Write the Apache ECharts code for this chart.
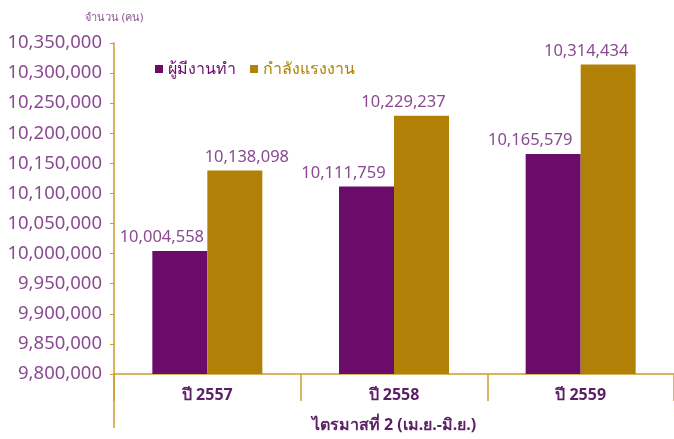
<!DOCTYPE html>
<html><head><meta charset="utf-8">
<script src="https://cdn.jsdelivr.net/npm/echarts@6/dist/echarts.min.js"></script>
<style>html,body{margin:0;padding:0;background:#fff}#c{width:674px;height:439px}</style>
</head><body><div id="c"></div>
<script>
const categories = ['ปี 2557', 'ปี 2558', 'ปี 2559'];
const employed = [10004558, 10111759, 10165579];
const labourForce = [10138098, 10229237, 10314434];
const seriesNames = ['ผู้มีงานทำ', 'กำลังแรงงาน'];
const yMin = 9800000, yMax = 10350000, yStep = 50000;

const purple = '#6c0c6a', gold = '#b08106', axisGold = '#c99e2c', labelPurple = '#8a4a92';
const font = '"Noto Sans", "DejaVu Sans", sans-serif';
const chart = echarts.init(document.getElementById('c'));
const fmt = v => v.toLocaleString('en-US');
const lblOffsetsA = [[-18, 0], [-23, 0], [-23, 0]];
const lblOffsetsB = [[12, 0], [-18, 0], [-22, 0]];
chart.setOption({
  animation: false,
  textStyle: { fontFamily: font },
  grid: { left: 114, top: 43, width: 566, height: 331, containLabel: false },
  legend: {
    left: 150, top: 56, itemWidth: 8, itemHeight: 8, itemGap: 14,
    icon: 'rect',
    data: [
      { name: seriesNames[0], textStyle: { color: purple } },
      { name: seriesNames[1], textStyle: { color: gold } }
    ],
    textStyle: { fontSize: 16, fontFamily: font }
  },
  xAxis: {
    type: 'category', data: categories,
    name: 'ไตรมาสที่ 2 (เม.ย.-มิ.ย.)', nameLocation: 'middle', nameGap: 43,
    nameTextStyle: { color: '#5b1f66', fontSize: 16, fontWeight: 'bold', fontFamily: font },
    axisLine: { lineStyle: { color: axisGold, width: 1.5 } },
    axisTick: { show: true, length: 27, lineStyle: { color: axisGold, width: 1.5 } },
    axisLabel: { color: '#5b1f66', fontSize: 16, fontWeight: 'bold', margin: 13 }
  },
  yAxis: {
    type: 'value', min: yMin, max: yMax, interval: yStep,
    name: 'จำนวน (คน)', nameLocation: 'end', nameGap: 20,
    nameTextStyle: { color: '#8a5a90', fontSize: 11, align: 'center' },
    axisLine: { show: true, lineStyle: { color: axisGold, width: 1.5 } },
    axisTick: { show: true, length: 4, lineStyle: { color: axisGold } },
    splitLine: { show: false },
    axisLabel: { color: labelPurple, fontSize: 18.5, margin: 12, formatter: v => fmt(v) }
  },
  graphic: [{
    type: 'line', shape: { x1: 114, y1: 374, x2: 114, y2: 428 },
    style: { stroke: axisGold, lineWidth: 1.5 }
  }],
  series: [
    {
      name: seriesNames[0], type: 'bar', barWidth: 55, barGap: '0%',
      itemStyle: { color: purple },
      data: employed.map((v, i) => ({ value: v, label: { offset: lblOffsetsA[i] } })),
      label: { show: true, position: 'top', distance: 5, color: labelPurple, fontSize: 16.5, formatter: p => fmt(p.value) }
    },
    {
      name: seriesNames[1], type: 'bar', barWidth: 55, barGap: '0%',
      itemStyle: { color: gold },
      data: labourForce.map((v, i) => ({ value: v, label: { offset: lblOffsetsB[i] } })),
      label: { show: true, position: 'top', distance: 5, color: labelPurple, fontSize: 16.5, formatter: p => fmt(p.value) }
    }
  ]
});
</script></body></html>
